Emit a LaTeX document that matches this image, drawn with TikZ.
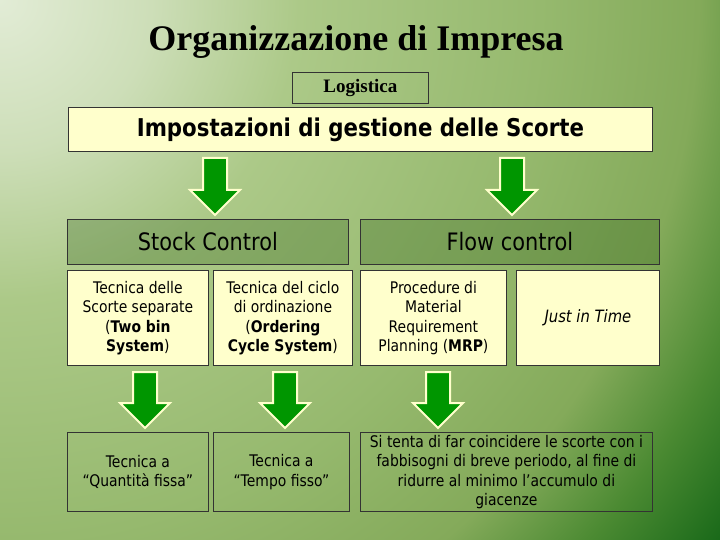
\documentclass[tikz,border=0pt]{standalone}
\usepackage{fontspec}
\setmainfont{Liberation Serif}
\newfontfamily\tah[FakeStretch=0.87]{DejaVu Sans}
\definecolor{bgA}{RGB}{226,236,214}
\definecolor{bgA2}{RGB}{205,222,184}
\definecolor{bgB}{RGB}{172,201,136}
\definecolor{bgC}{RGB}{150,185,110}
\definecolor{bgD}{RGB}{132,170,90}
\definecolor{bgE}{RGB}{75,138,50}
\definecolor{bgF}{RGB}{25,105,25}
\definecolor{cream}{RGB}{255,255,204}
\definecolor{agreen}{RGB}{0,150,0}
\definecolor{gfill}{RGB}{40,90,20}
\pgfdeclareradialshading{bgrad}{\pgfpoint{0bp}{0bp}}{%
  color(0bp)=(bgA); color(4.2bp)=(bgA2); color(8.3bp)=(bgB); color(15bp)=(bgC);
  color(19.4bp)=(bgD); color(22.2bp)=(bgE); color(25bp)=(bgF); color(50bp)=(bgF)}
\newcommand\blockarrow[3]{% x, ytop, length
  \path[barrow] (#1-12,#2) -- (#1+12,#2) -- (#1+12,#2+#3-25) -- (#1+25,#2+#3-25)
    -- (#1,#2+#3) -- (#1-25,#2+#3-25) -- (#1-12,#2+#3-25) -- cycle;}
\begin{document}
\begin{tikzpicture}[x=1pt,y=-1pt,
  box/.style={draw=black!80, line width=0.8pt, anchor=north west, inner sep=2pt,
    align=center, font=\tah\fontsize{16}{19.5}\selectfont},
  cbox/.style={box, fill=cream},
  gbox/.style={box, fill=gfill, fill opacity=0.28, text opacity=1},
  barrow/.style={fill=agreen, draw=cream, line width=2pt, line join=miter}]
\begin{scope}
  \clip (0,0) rectangle (720,540);
  \shade[shading=bgrad] (0,0) circle (900);
\end{scope}
\useasboundingbox (0,0) rectangle (720,540);

\node (title) at (356,42) {\fontsize{36}{40}\selectfont\bfseries Organizzazione di Impresa};
\node[draw=black!80, line width=0.8pt, anchor=north west, minimum width=136pt, minimum height=31pt, inner sep=0pt]
  (log) at (292,72) {\fontsize{19}{21}\selectfont\bfseries Logistica};
\node[cbox, minimum width=584pt, minimum height=44pt, font=\tah\bfseries\fontsize{24.5}{28}\selectfont]
  (imp) at (68,107) {Impostazioni di gestione delle Scorte};

\blockarrow{215}{158}{57}
\blockarrow{512}{158}{57}

\node[gbox, minimum width=281pt, minimum height=45pt, font=\tah\fontsize{24}{28}\selectfont]
  (stock) at (67,219) {Stock Control};
\node[gbox, minimum width=299pt, minimum height=45pt, font=\tah\fontsize{24}{28}\selectfont]
  (flow) at (360,219) {Flow control};

\node[cbox, minimum width=141pt, minimum height=95pt] (r2a) at (67,270)
  {Tecnica delle\\Scorte separate\\(\textbf{Two bin}\\\textbf{System})};
\node[cbox, minimum width=139pt, minimum height=95pt] (r2b) at (213,270)
  {Tecnica del ciclo\\di ordinazione\\(\textbf{Ordering}\\\textbf{Cycle System})};
\node[cbox, minimum width=146pt, minimum height=95pt] (r2c) at (360,270)
  {Procedure di\\Material\\Requirement\\Planning (\textbf{MRP})};
\node[cbox, minimum width=143pt, minimum height=95pt, font=\tah\fontsize{17}{19.5}\selectfont] (r2d) at (516,270)
  {\itshape Just in Time};

\blockarrow{145}{372}{56}
\blockarrow{285}{372}{56}
\blockarrow{438}{372}{56}

\node[box, minimum width=141pt, minimum height=79pt] (b1) at (67,432)
  {Tecnica a\\“Quantità fissa”};
\node[box, minimum width=136pt, minimum height=79pt] (b2) at (213,432)
  {Tecnica a\\“Tempo fisso”};
\node[box, minimum width=292pt, minimum height=79pt, inner sep=0pt] (b3) at (360,432)
  {Si tenta di far coincidere le scorte con i\\fabbisogni di breve periodo, al fine di\\ridurre al minimo l’accumulo di\\giacenze};
\end{tikzpicture}
\end{document}
